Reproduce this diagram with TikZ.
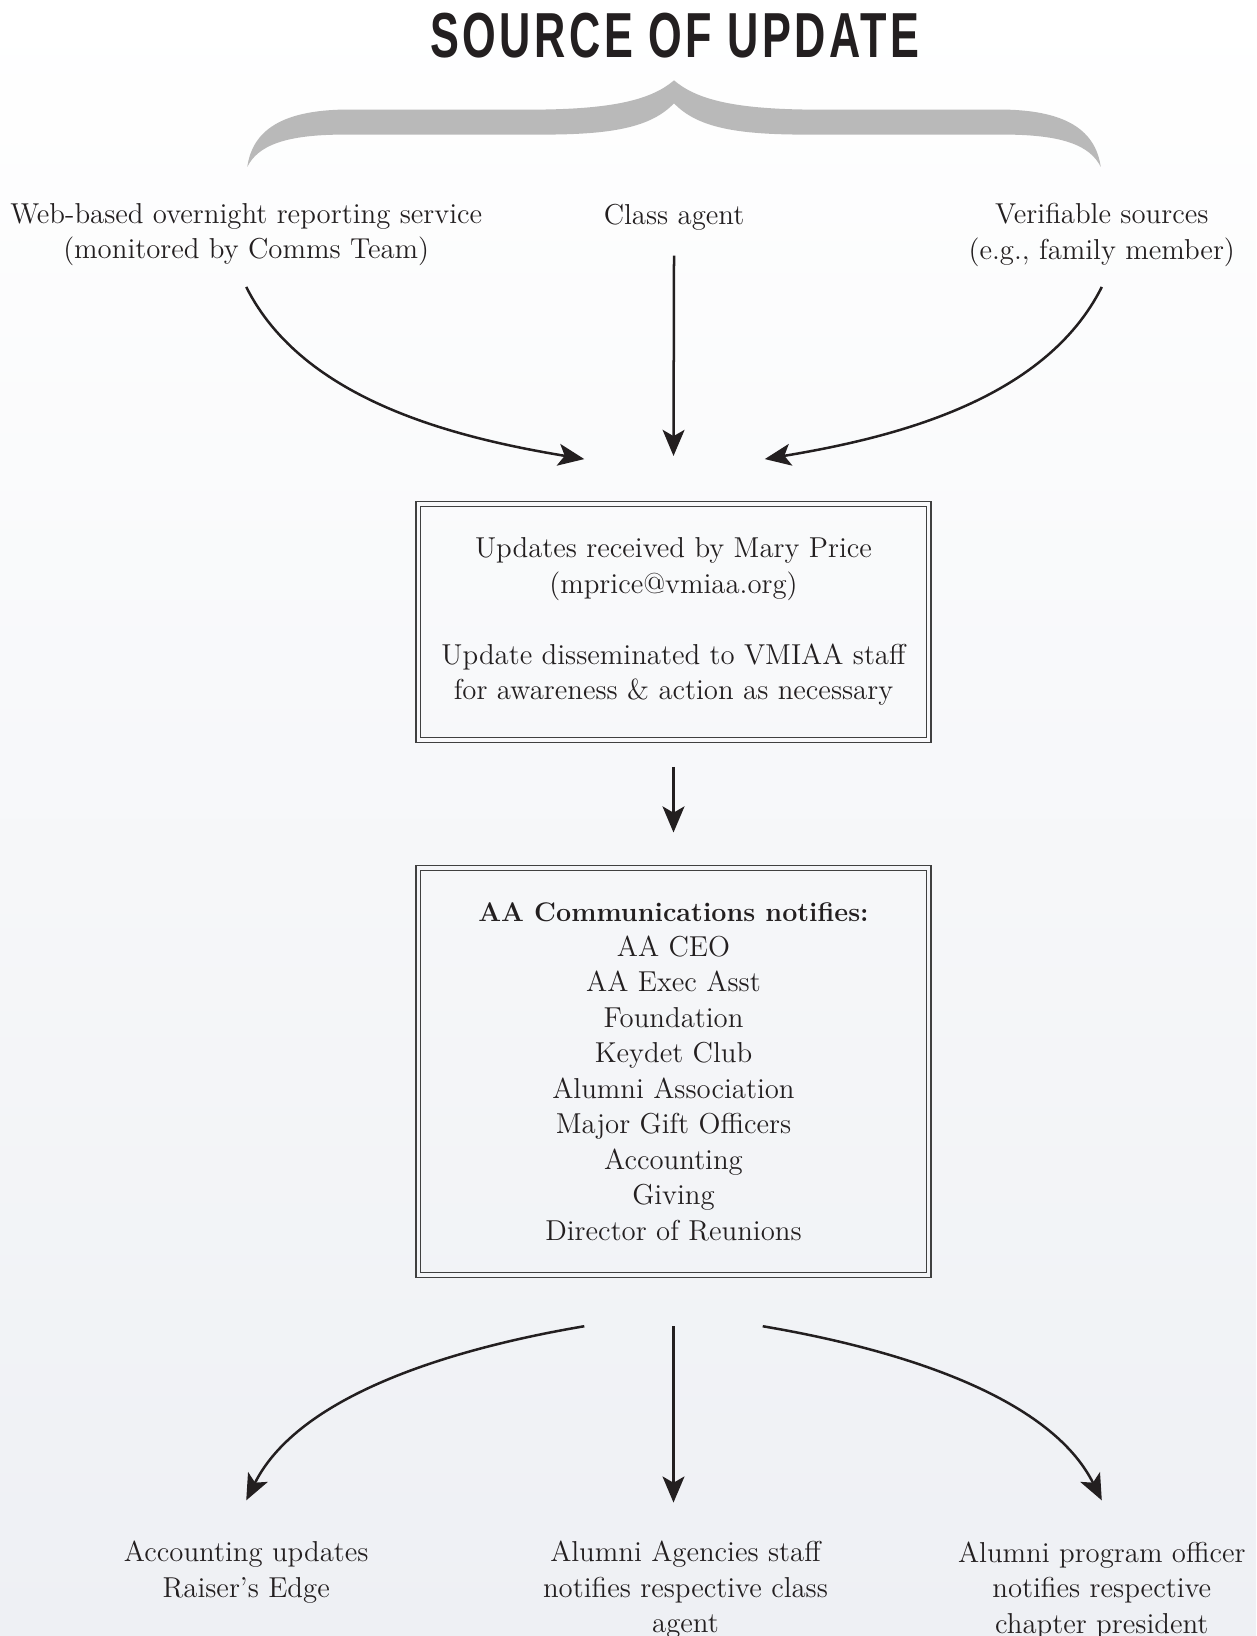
\documentclass[tikz,border=0pt]{standalone}
\usepackage{fontspec}
\newfontfamily\headfont[LetterSpace=8]{Liberation Sans}
\usetikzlibrary{arrows.meta}
\definecolor{ink}{HTML}{231F20}
\definecolor{bgbot}{RGB}{238,240,244}
\definecolor{bracegray}{HTML}{B9B9B9}
\tikzset{
	label text/.style={align=center, text=ink, font=\fontsize{13.8}{17}\selectfont, inner sep=0pt},
	framed box/.style={label text, draw=black!75, line width=0.6pt, double distance=1.7pt, outer sep=0pt, minimum width=244.6pt},
	flow/.style={-{Stealth[length=12.5pt,width=10.5pt,inset=3pt]}, line width=1.2pt, draw=ink},
}
\begin{document}
\begin{tikzpicture}[x=0.5pt, y=-0.5pt]
	\useasboundingbox (0,0) rectangle (1204,1568);
	% background
	\shade[top color=white, bottom color=bgbot] (0,0) rectangle (1204,1568);

	% title and brace
	\node[anchor=base, text=ink, inner sep=0pt] (title) at (647,55)
		{\headfont\bfseries\fontsize{30.5}{30}\selectfont\scalebox{0.68}[1]{SOURCE OF UPDATE}};
	\fill[bracegray] (237,160) .. controls (242,125) and (270,106) .. (330,105) -- (520,105)
		.. controls (590,104) and (625,95) .. (646,77)
		.. controls (667,95) and (702,104) .. (772,105) -- (962,105)
		.. controls (1022,106) and (1050,125) .. (1055,160)
		.. controls (1045,140) and (1020,129) .. (962,129) -- (772,129)
		.. controls (705,129) and (668,122) .. (646,99)
		.. controls (624,122) and (587,129) .. (520,129) -- (330,129)
		.. controls (272,129) and (247,140) .. (237,160) -- cycle;

	% sources
	\node[label text] (web) at (236,225) {Web-based overnight reporting service\\(monitored by Comms Team)};
	\node[label text] (agent) at (646,208) {Class agent};
	\node[label text] (verif) at (1056,225) {Verifiable sources\\(e.g., family member)};

	% boxes
	\node[framed box, double=bgbot!38!white, minimum height=113.1pt] (recv) at (645.5,596)
		{Updates received by Mary Price\\(mprice@vmiaa.org)\\[17pt]Update disseminated to VMIAA staff\\for awareness \& action as necessary};
	\node[framed box, double=bgbot!65!white, minimum height=195.1pt] (notify) at (645.5,1027)
		{{\fontsize{12.9}{17}\selectfont\bfseries AA Communications notifies:}\\AA CEO\\AA Exec Asst\\Foundation\\Keydet Club\\Alumni Association\\Major Gift Officers\\Accounting\\Giving\\Director of Reunions};

	% recipients
	\node[label text] (acct) at (236,1507) {Accounting updates\\Raiser's Edge};
	\node[label text] (agency) at (657,1524) {Alumni Agencies staff\\notifies respective class\\agent};
	\node[label text] (program) at (1056,1524) {Alumni program officer\\notifies respective\\chapter president};

	% arrows
	\draw[flow] ([yshift=-25pt]web.center) .. controls +(55,110) and +(-120,-20) .. ([xshift=-42.75pt,yshift=78pt]recv.center);
	\draw[flow] ([yshift=-18.5pt]agent.center) -- ([yshift=79.5pt]recv.center);
	\draw[flow] ([yshift=-25pt]verif.center) .. controls +(-55,110) and +(120,-20) .. ([xshift=43.75pt,yshift=78pt]recv.center);
	\draw[flow, shorten <=13pt, shorten >=17pt] (recv.south) -- (notify.north);
	\draw[flow] ([xshift=-42.75pt,yshift=-24.5pt]notify.south) .. controls +(-130,22) and +(50,-100) .. ([yshift=34.5pt]acct.center);
	\draw[flow] ([yshift=-24.5pt]notify.south) -- ([yshift=-109pt]notify.south);
	\draw[flow] ([xshift=42.75pt,yshift=-24.5pt]notify.south) .. controls +(130,22) and +(-50,-100) .. ([yshift=43pt]program.center);
\end{tikzpicture}
\end{document}
